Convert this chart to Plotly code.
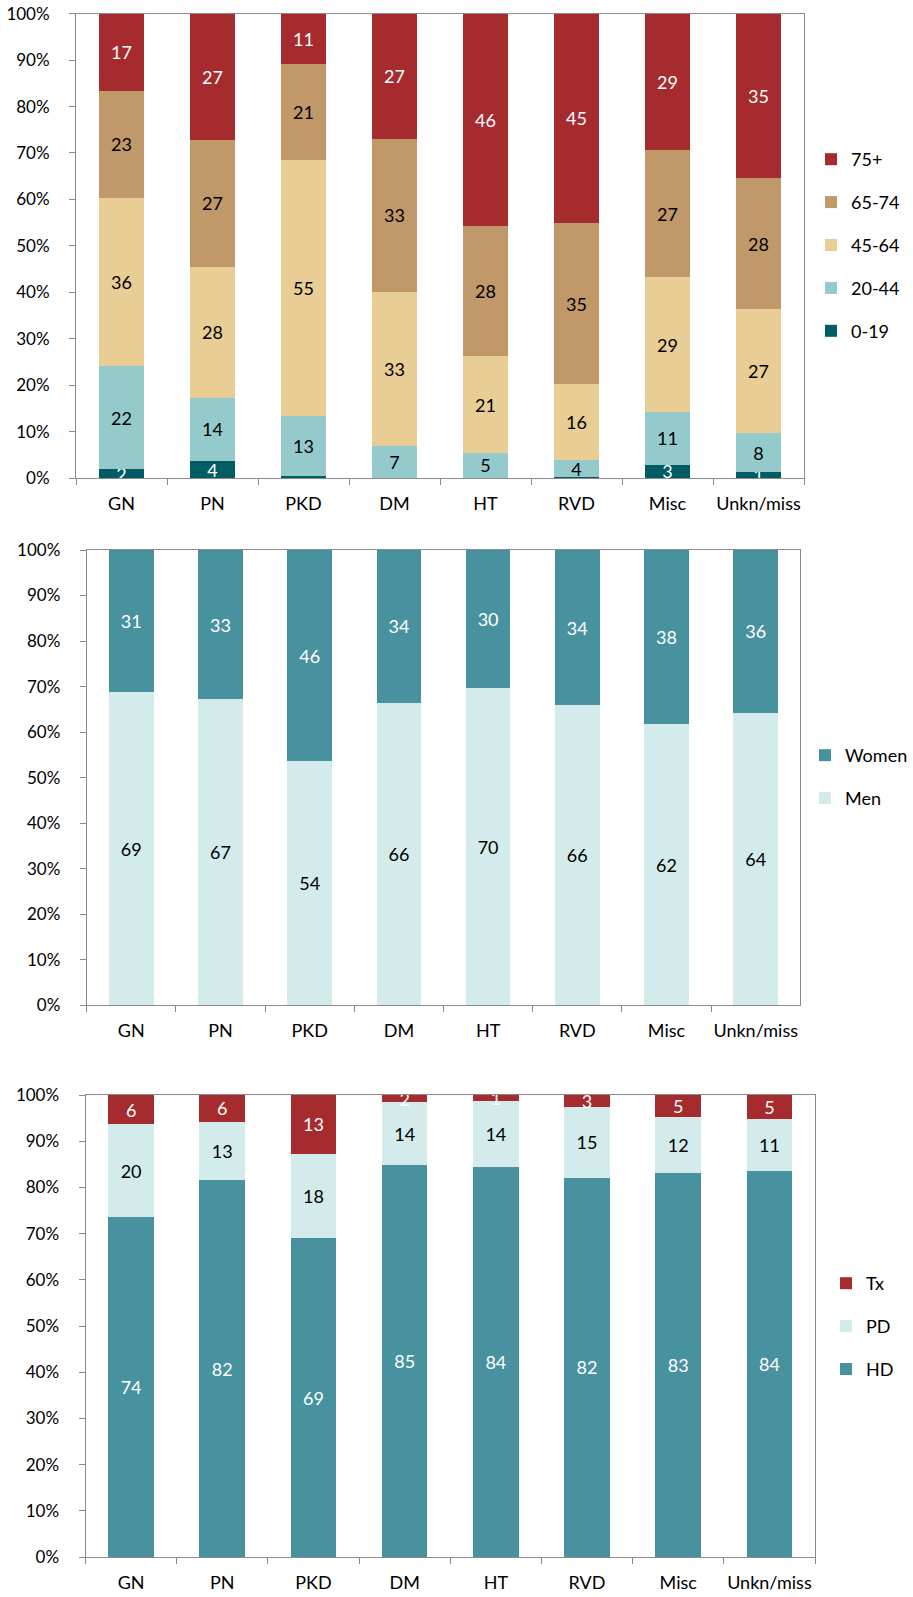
import plotly.graph_objects as go

W, H = 913, 1597

categories = ["GN", "PN", "PKD", "DM", "HT", "RVD", "Misc", "Unkn/miss"]

# Panel 1: age groups (% of patients)
age_0_19 = [1.9, 3.6, 0.4, 0.1, 0.1, 0.2, 2.9, 1.2]
age_20_44 = [22.2, 13.7, 12.9, 6.7, 5.3, 3.6, 11.4, 8.4]
age_45_64 = [36.2, 28.2, 55.1, 33.2, 20.8, 16.4, 28.9, 26.7]
age_65_74 = [23.1, 27.3, 20.8, 33.1, 28.0, 34.7, 27.4, 28.3]
age_75p = [16.6, 27.2, 10.8, 26.9, 45.8, 45.1, 29.4, 35.4]

# Panel 2: sex
men = [68.8, 67.2, 53.6, 66.4, 69.6, 65.9, 61.7, 64.3]
women = [31.2, 32.8, 46.4, 33.6, 30.4, 34.1, 38.3, 35.7]

# Panel 3: treatment modality
hd = [73.6, 81.6, 69.0, 84.8, 84.4, 82.1, 83.2, 83.6]
pd_ = [20.1, 12.6, 18.3, 13.6, 14.4, 15.3, 12.1, 11.3]
tx = [6.3, 5.8, 12.7, 1.6, 1.2, 2.6, 4.7, 5.1]

y_ticks = list(range(0, 101, 10))
y_ticktext = [f"{v}%" for v in y_ticks]

C_RED = "#A52B2F"
C_TAN = "#C0986A"
C_SAND = "#E8CD95"
C_LTEAL = "#95CACD"
C_DTEAL = "#015C66"
C_TEAL = "#4892A0"
C_PALE = "#D3ECEB"

FONT = "Lato, 'Open Sans', sans-serif"
FS = 18
AXIS_C = "#8A8A8A"


def labels(vals):
    return [str(int(round(v))) if v >= 0.5 else "" for v in vals]


fig = go.Figure()
rank = [1000]


def add(vals, name, color, tcolor, ax, leg):
    xa = "x" if ax == 1 else f"x{ax}"
    ya = "y" if ax == 1 else f"y{ax}"
    rank[0] -= 1
    fig.add_trace(go.Bar(
        x=categories, y=vals, name=name, marker=dict(color=color, line=dict(width=0)),
        text=labels(vals), textposition="inside", insidetextanchor="middle",
        textangle=0, constraintext="none",
        textfont=dict(color=tcolor, size=FS, family=FONT),
        xaxis=xa, yaxis=ya, legend=leg, legendgroup=f"{leg}_{name}",
        legendrank=rank[0], hoverinfo="x+y+name", cliponaxis=True,
    ))


add(age_0_19, "0-19", C_DTEAL, "white", 1, "legend")
add(age_20_44, "20-44", C_LTEAL, "black", 1, "legend")
add(age_45_64, "45-64", C_SAND, "black", 1, "legend")
add(age_65_74, "65-74", C_TAN, "black", 1, "legend")
add(age_75p, "75+", C_RED, "white", 1, "legend")

add(men, "Men", C_PALE, "black", 2, "legend2")
add(women, "Women", C_TEAL, "white", 2, "legend2")

add(hd, "HD", C_TEAL, "white", 3, "legend3")
add(pd_, "PD", C_PALE, "black", 3, "legend3")
add(tx, "Tx", C_RED, "white", 3, "legend3")


def px_dom_x(a, b):
    return [a / W, b / W]


def px_dom_y(top, bottom):
    return [(H - bottom) / H, (H - top) / H]


panels = {
    1: dict(x=(76, 804), y=(13.7, 478)),
    2: dict(x=(86.7, 800.3), y=(550, 1005.3)),
    3: dict(x=(85.5, 815), y=(1095, 1557)),
}

layout = dict(
    width=W, height=H, margin=dict(l=0, r=0, t=0, b=0, autoexpand=False),
    paper_bgcolor="white", plot_bgcolor="white",
    barmode="stack", bargap=0.5,
    font=dict(family=FONT, size=FS, color="#000"),
    showlegend=True,
)

for i, p in panels.items():
    xk = "xaxis" if i == 1 else f"xaxis{i}"
    yk = "yaxis" if i == 1 else f"yaxis{i}"
    ya = "y" if i == 1 else f"y{i}"
    xa = "x" if i == 1 else f"x{i}"
    layout[xk] = dict(
        domain=px_dom_x(*p["x"]), anchor=ya, type="category",
        showline=True, linecolor=AXIS_C, linewidth=1, mirror=True,
        ticks="outside", ticklen=6, tickcolor=AXIS_C, tickson="boundaries",
        tickangle=0, automargin=False,
        showgrid=False, zeroline=False, ticklabelstandoff=9,
        tickfont=dict(size=FS, family=FONT, color="#000"), fixedrange=True,
    )
    layout[yk] = dict(
        domain=px_dom_y(*p["y"]), anchor=xa, range=[0, 100],
        tickvals=y_ticks, ticktext=y_ticktext, automargin=False,
        showline=True, linecolor=AXIS_C, linewidth=1, mirror=True,
        ticks="outside", ticklen=6, tickcolor=AXIS_C,
        showgrid=False, zeroline=False, ticklabelstandoff=16,
        tickfont=dict(size=17, family=FONT, color="#000"), fixedrange=True,
    )

leg_common = dict(
    xanchor="left", yanchor="middle", traceorder="grouped",
    tracegroupgap=16.5, font=dict(size=FS, family=FONT, color="#000"),
    bgcolor="rgba(0,0,0,0)", itemclick=False, itemdoubleclick=False,
)
layout["legend"] = dict(leg_common, x=811 / W, y=1 - 245 / H)
layout["legend2"] = dict(leg_common, x=805 / W, y=1 - 777 / H)
layout["legend3"] = dict(leg_common, x=826 / W, y=1 - 1326.5 / H)

fig.update_layout(**layout)

fig.write_html(
    "out.html",
    config={"displayModeBar": False},
    post_script="document.body.style.margin='0';document.body.style.overflow='hidden';",
)
